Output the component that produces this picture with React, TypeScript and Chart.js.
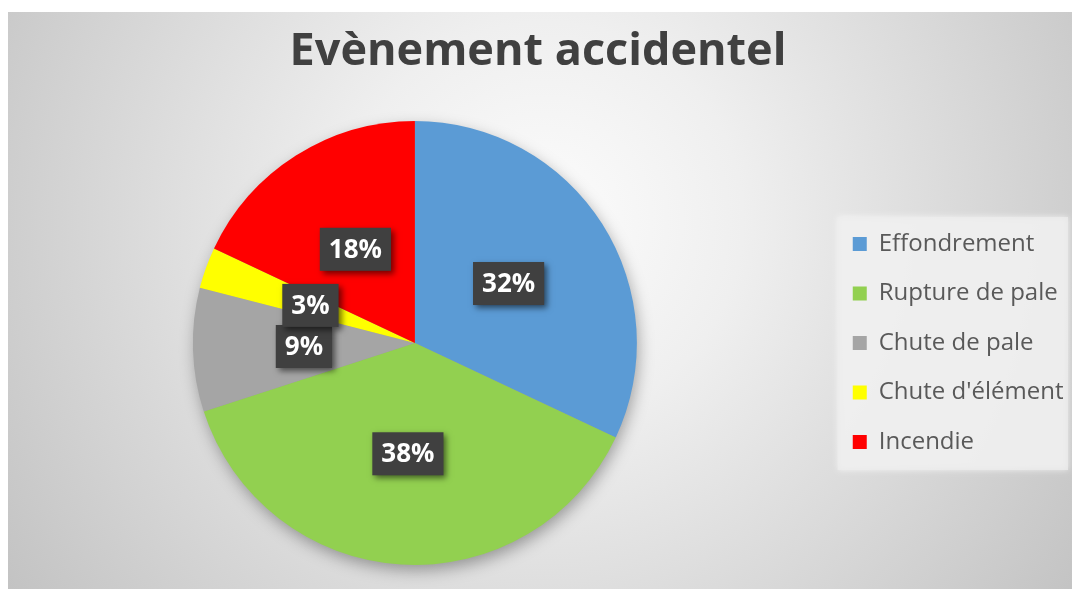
import React, { useEffect, useRef } from 'react';
import { Chart, registerables } from 'chart.js';

Chart.register(...registerables);

const TITLE = 'Evènement accidentel';
const categories = ['Effondrement', 'Rupture de pale', 'Chute de pale', "Chute d'élément", 'Incendie'];
const percentages = [32, 38, 9, 3, 18];
const sliceColors = ['#5B9BD5', '#92D050', '#A5A5A5', '#FFFF00', '#FF0000'];

const FONT = "'Open Sans', 'Noto Sans', sans-serif";

const backgroundPlugin = {
  id: 'bgPlugin',
  beforeDraw(chart: any) {
    const { ctx, width, height } = chart;
    ctx.save();
    ctx.fillStyle = '#ffffff';
    ctx.fillRect(0, 0, width, height);
    const g = ctx.createRadialGradient(545, 220, 0, 545, 220, 660);
    g.addColorStop(0, '#fcfcfc');
    g.addColorStop(0.3, '#efefef');
    g.addColorStop(1, '#c2c2c2');
    ctx.fillStyle = g;
    ctx.fillRect(8, 12, 1064, 577);
    const lg = chart.legend;
    if (lg) {
      const pad = lg.options.labels.padding;
      const x = lg.left + pad - 15;
      const cy = (lg.top + lg.bottom) / 2;
      const y = cy - 126;
      ctx.shadowColor = 'rgba(255,255,255,0.9)';
      ctx.shadowBlur = 6;
      ctx.fillStyle = 'rgba(236,236,236,0.75)';
      ctx.fillRect(x, y, 1068 - x, 253);
    }
    ctx.restore();
  },
  beforeDatasetsDraw(chart: any) {
    const meta = chart.getDatasetMeta(0);
    const arc = meta.data[0];
    if (!arc) return;
    const { ctx } = chart;
    ctx.save();
    ctx.shadowColor = 'rgba(0,0,0,0.35)';
    ctx.shadowBlur = 16;
    ctx.shadowOffsetX = 2;
    ctx.shadowOffsetY = 6;
    ctx.fillStyle = '#9a9a9a';
    ctx.beginPath();
    ctx.arc(arc.x, arc.y, arc.outerRadius - 1, 0, Math.PI * 2);
    ctx.fill();
    ctx.restore();
  },
  afterDatasetsDraw(chart: any) {
    const meta = chart.getDatasetMeta(0);
    const { ctx } = chart;
    const values = chart.data.datasets[0].data as number[];
    ctx.save();
    ctx.font = `700 26px ${FONT}`;
    ctx.textAlign = 'center';
    ctx.textBaseline = 'middle';
    meta.data.forEach((arc: any, i: number) => {
      const p = arc.tooltipPosition();
      const txt = `${values[i]}%`;
      const tw = ctx.measureText(txt).width;
      const w = tw + 18;
      const h = 43;
      ctx.save();
      ctx.shadowColor = 'rgba(0,0,0,0.55)';
      ctx.shadowBlur = 6;
      ctx.shadowOffsetX = 3;
      ctx.shadowOffsetY = 3;
      ctx.fillStyle = '#404040';
      ctx.fillRect(p.x - w / 2, p.y - h / 2, w, h);
      ctx.restore();
      ctx.fillStyle = '#ffffff';
      ctx.fillText(txt, p.x, p.y + 1);
    });
    ctx.restore();
  },
};

export default function App() {
  const ref = useRef<HTMLCanvasElement | null>(null);
  useEffect(() => {
    if (!ref.current) return;
    const chart = new Chart(ref.current, {
      type: 'pie',
      data: {
        labels: categories,
        datasets: [
          {
            data: percentages,
            backgroundColor: sliceColors,
            borderWidth: 0,
          },
        ],
      },
      options: {
        animation: false,
        responsive: false,
        devicePixelRatio: 1,
        layout: { padding: { left: 2.5, right: 1.5, top: 0, bottom: 24 } },
        plugins: {
          title: {
            display: true,
            text: TITLE,
            color: '#404040',
            font: { family: FONT, size: 45, weight: '700' },
            padding: { top: 25.2, bottom: 41.8 },
          },
          legend: {
            position: 'right',
            fullSize: false,
            labels: {
              boxWidth: 14,
              boxHeight: 14,
              padding: 25.5,
              color: '#595959',
              font: { family: FONT, size: 24 },
            },
          },
          tooltip: { enabled: false },
        },
      },
      plugins: [backgroundPlugin],
    } as any);
    return () => chart.destroy();
  }, []);
  return (
    <div style={{ position: 'absolute', left: 0, top: 0, width: 1075, height: 589 }}>
      <canvas ref={ref} width={1075} height={589} />
    </div>
  );
}
